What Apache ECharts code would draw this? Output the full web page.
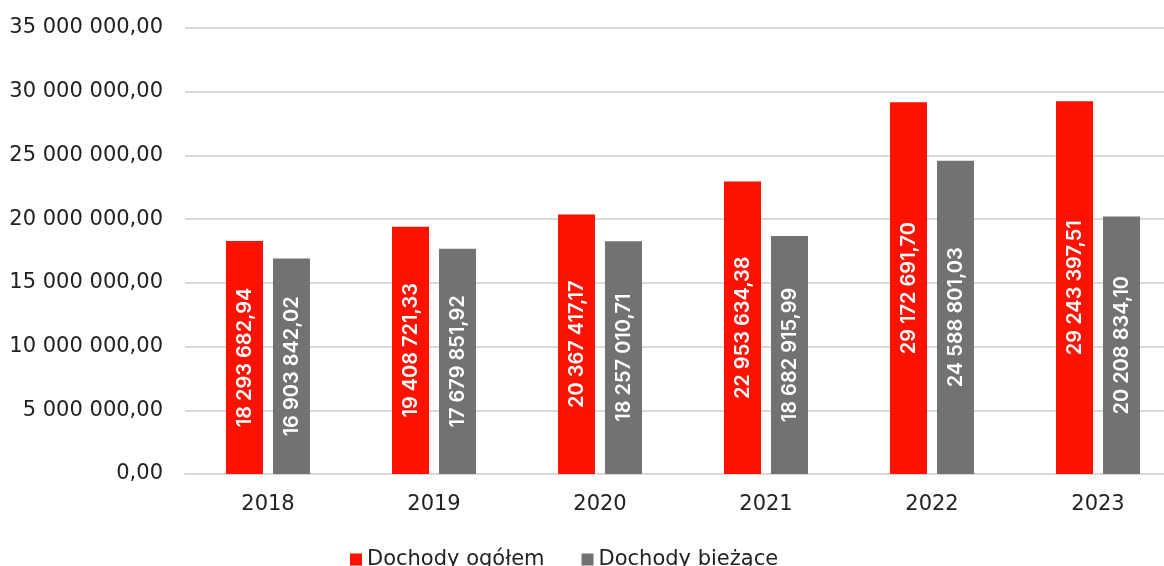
<!DOCTYPE html>
<html>
<head>
<meta charset="utf-8">
<script src="https://cdn.jsdelivr.net/npm/echarts@6/dist/echarts.min.js"></script>
<style>
  html, body { margin: 0; padding: 0; background: #fff; }
  #chart { width: 1164px; height: 566px; }
</style>
</head>
<body>
<div id="chart"></div>
<script>
// Years on the category axis
const years = ['2018', '2019', '2020', '2021', '2022', '2023'];
// Total revenue per year
const dochodyOgolem = [18293682.94, 19408721.33, 20367417.17, 22953634.38, 29172691.70, 29243397.51];
// Current revenue per year
const dochodyBiezace = [16903842.02, 17679851.92, 18257010.71, 18682915.99, 24588801.03, 20208834.10];
const seriesNames = ['Dochody ogółem', 'Dochody bieżące'];

// Polish-style number format: space thousands separator, comma decimals
function fmt(v) {
  const parts = v.toFixed(2).split('.');
  const intPart = parts[0].replace(/\B(?=(\d{3})+(?!\d))/g, ' ');
  return intPart + ',' + parts[1];
}

const labelStyle = {
  show: true,
  position: 'inside',
  rotate: 90,
  color: '#ffffff',
  fontFamily: 'Inter',
  fontWeight: 600,
  fontSize: 20,
  formatter: p => fmt(p.value)
};

const chart = echarts.init(document.getElementById('chart'));
chart.setOption({
  animation: false,
  backgroundColor: '#ffffff',
  textStyle: { fontFamily: 'DejaVu Sans' },
  // plot area runs past the right edge of the canvas
  grid: { left: 185, width: 996, top: 28, bottom: 92, containLabel: false, outerBoundsMode: 'none' },
  legend: {
    data: seriesNames,
    bottom: -9,
    left: 345,
    itemWidth: 12,
    itemHeight: 12,
    itemGap: 37,
    icon: 'rect',
    textStyle: { fontSize: 21, color: '#222', fontFamily: 'DejaVu Sans' }
  },
  xAxis: {
    type: 'category',
    data: years,
    axisTick: { show: false },
    axisLine: { show: true, lineStyle: { color: '#d9d9d9', width: 2 } },
    axisLabel: { fontSize: 21, color: '#222', margin: 20, fontFamily: 'DejaVu Sans' }
  },
  yAxis: {
    type: 'value',
    min: 0,
    max: 35000000,
    interval: 5000000,
    axisLine: { show: false },
    axisTick: { show: false },
    splitLine: { lineStyle: { color: '#d9d9d9', width: 2 } },
    axisLabel: { fontSize: 21, color: '#222', margin: 22, fontFamily: 'DejaVu Sans', formatter: v => fmt(v) }
  },
  series: [
    {
      name: seriesNames[0],
      type: 'bar',
      data: dochodyOgolem,
      barWidth: 37,
      barGap: '27%',
      itemStyle: { color: '#ff1100' },
      label: labelStyle
    },
    {
      name: seriesNames[1],
      type: 'bar',
      data: dochodyBiezace,
      barWidth: 37,
      barGap: '27%',
      itemStyle: { color: '#727272' },
      label: labelStyle
    }
  ]
});
</script>
</body>
</html>
